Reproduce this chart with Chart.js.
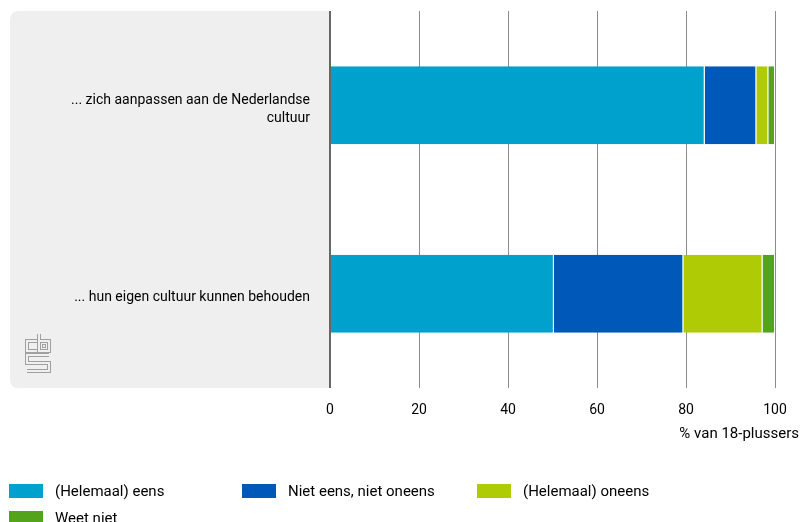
<!DOCTYPE html>
<html>
<head>
<meta charset="utf-8">
<script src="https://cdn.jsdelivr.net/npm/chart.js@4/dist/chart.umd.min.js"></script>
<style>
  html, body { margin: 0; padding: 0; background: #fff; }
  #wrap { position: relative; width: 802px; height: 522px; overflow: hidden; }
  #chartBox { position: absolute; left: 0; top: 0; width: 802px; height: 450px; }
  #legend { position: absolute; left: 0; top: 0; width: 802px; height: 522px; pointer-events: none;
            font-family: 'Roboto', sans-serif; font-size: 15px; color: #000; }
  .li { position: absolute; height: 14px; }
  .li .sw { position: absolute; left: 0; top: 0; width: 34px; height: 14px; }
  .li .tx { position: absolute; left: 46px; top: -2px; white-space: nowrap; line-height: 18px; }
</style>
</head>
<body>
<div id="wrap">
  <div id="chartBox"><canvas id="c"></canvas></div>
  <div id="legend"></div>
</div>
<script>
const categories = [
  ['... zich aanpassen aan de Nederlandse', 'cultuur'],
  '... hun eigen cultuur kunnen behouden'
];
const seriesNames = ['(Helemaal) eens', 'Niet eens, niet oneens', '(Helemaal) oneens', 'Weet niet'];
const seriesColors = ['#00a1cd', '#0058b8', '#afcb05', '#53a31d'];
const helemaalEens = [84.2, 50.3];
const nietEensNietOneens = [11.6, 29.1];
const helemaalOneens = [2.7, 17.8];
const weetNiet = [1.5, 2.8];
const xTicks = [0, 20, 40, 60, 80, 100];
const axisTitle = '% van 18-plussers';

const FONT = "'Roboto', sans-serif";
const seriesValues = [helemaalEens, nietEensNietOneens, helemaalOneens, weetNiet];

const panelPlugin = {
  id: 'panel',
  beforeDraw(chart) {
    const {ctx, chartArea} = chart;
    const x0 = 10, x1 = chartArea.left, y0 = chartArea.top, y1 = chartArea.bottom, r = 9;
    ctx.save();
    ctx.fillStyle = '#efefef';
    ctx.beginPath();
    ctx.moveTo(x1, y0);
    ctx.lineTo(x0 + r, y0);
    ctx.quadraticCurveTo(x0, y0, x0, y0 + r);
    ctx.lineTo(x0, y1 - r);
    ctx.quadraticCurveTo(x0, y1, x0 + r, y1);
    ctx.lineTo(x1, y1);
    ctx.closePath();
    ctx.fill();
    // CBS logo (outline style)
    const ox = 26, oy = 334;
    const paths = [
      [[11,7],[1,7],[1,17],[11,17]],
      [[13,0],[13,17],[23,17],[23,7],[13,7]],
      [[23,21],[1,21],[1,29],[23,29],[23,37],[1,37]]
    ];
    ctx.lineJoin = 'miter';
    ctx.lineCap = 'butt';
    [[4,'#a0a0a0'],[2,'#efefef']].forEach(([w,c]) => {
      ctx.lineWidth = w; ctx.strokeStyle = c;
      paths.forEach(p => {
        ctx.beginPath();
        p.forEach(([x,y],i) => i ? ctx.lineTo(ox+x, oy+y) : ctx.moveTo(ox+x, oy+y));
        ctx.stroke();
      });
    });
    ctx.strokeStyle = '#a0a0a0'; ctx.lineWidth = 1;
    ctx.strokeRect(ox + 16.5, oy + 10.5, 3, 3);
    ctx.restore();
  },
  afterDraw(chart) {
    const {ctx, chartArea} = chart;
    ctx.save();
    ctx.strokeStyle = '#666';
    ctx.lineWidth = 2;
    ctx.beginPath();
    ctx.moveTo(chartArea.left, chartArea.top);
    ctx.lineTo(chartArea.left, chartArea.bottom);
    ctx.stroke();
    ctx.fillStyle = '#000';
    ctx.font = '15px ' + FONT;
    ctx.textAlign = 'right';
    ctx.textBaseline = 'middle';
    ctx.fillText(axisTitle, chart.width - 3, 434);
    ctx.restore();
  }
};

const chart = new Chart(document.getElementById('c'), {
  type: 'bar',
  data: {
    labels: categories,
    datasets: seriesNames.map((n, i) => ({
      label: n,
      data: seriesValues[i],
      backgroundColor: seriesColors[i],
      borderColor: '#ffffff',
      borderWidth: {left: 0, right: 1, top: 0, bottom: 0},
      borderSkipped: false,
      barPercentage: 0.414,
      categoryPercentage: 1.0
    }))
  },
  options: {
    indexAxis: 'y',
    responsive: true,
    maintainAspectRatio: false,
    animation: false,
    layout: { padding: { top: 11, right: 27, left: 0, bottom: 0 } },
    plugins: { legend: { display: false }, tooltip: { enabled: false } },
    scales: {
      x: {
        stacked: true,
        min: 0, max: 100,
        afterBuildTicks(axis) { axis.ticks = xTicks.map(v => ({value: v})); },
        afterFit(axis) { axis.height = 62; axis.paddingLeft = 0; axis.paddingRight = 0; },
        border: { display: false },
        grid: { drawTicks: false, color: '#8c8c8c', lineWidth: 1 },
        ticks: { padding: 14, color: '#000', font: { family: FONT, size: 14 }, maxRotation: 0 }
      },
      y: {
        stacked: true,
        afterFit(axis) { axis.width = 330; axis.paddingTop = 0; axis.paddingBottom = 0; },
        border: { display: false },
        grid: { display: false, drawTicks: false },
        ticks: { padding: 20, labelOffset: 4, color: '#000', font: { family: FONT, size: 14, lineHeight: 1.3 } }
      }
    }
  },
  plugins: [panelPlugin]
});

const legendPos = [[9, 484], [242, 484], [477, 484], [9, 511]];
const lg = document.getElementById('legend');
seriesNames.forEach((n, i) => {
  const d = document.createElement('div');
  d.className = 'li';
  d.style.left = legendPos[i][0] + 'px';
  d.style.top = legendPos[i][1] + 'px';
  d.innerHTML = '<div class="sw" style="background:' + seriesColors[i] + '"></div><div class="tx"></div>';
  d.querySelector('.tx').textContent = n;
  lg.appendChild(d);
});
</script>
</body>
</html>
